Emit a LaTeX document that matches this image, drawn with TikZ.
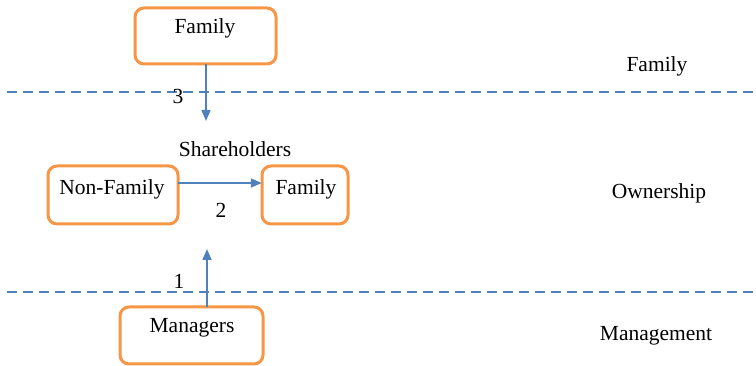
\documentclass[tikz,border=0pt]{standalone}
\usepackage{fontspec}
\setmainfont{Liberation Serif}
\usetikzlibrary{arrows.meta}
\definecolor{boxorange}{RGB}{247,150,70}
\definecolor{linkblue}{RGB}{79,129,189}
\begin{document}
\begin{tikzpicture}[x=1pt,y=-1pt,
  box/.style={draw=boxorange, line width=3pt, rounded corners=9pt, fill=white},
  txt/.style={font=\fontsize{21.5}{25}\selectfont, inner sep=0pt},
  link/.style={draw=linkblue, line width=1.6pt, -{Triangle[length=11pt,width=9pt]}},
  divider/.style={draw=linkblue, line width=1.4pt, dash pattern=on 10pt off 6pt}]
\useasboundingbox (0,0) rectangle (756,366);

% layer dividers
\coordinate (d1l) at (7,92);  \coordinate (d1r) at (756,92);
\coordinate (d2l) at (7,292); \coordinate (d2r) at (756,292);
\draw[divider] (d1l) -- (d1r);
\draw[divider] (d2l) -- (d2r);

% boxes
\path[box] (135,8) rectangle (276,64);
\node[inner sep=0pt, minimum width=141pt, minimum height=56pt] (famtop) at (205.5,36) {};
\path[box] (48,166) rectangle (178,224);
\node[inner sep=0pt, minimum width=130pt, minimum height=58pt] (nonfam) at (113,195) {};
\path[box] (262,166) rectangle (348,224);
\node[inner sep=0pt, minimum width=86pt, minimum height=58pt] (fammid) at (305,195) {};
\path[box] (120,307) rectangle (263,364);
\node[inner sep=0pt, minimum width=143pt, minimum height=57pt] (mgr) at (191.5,335.5) {};

% box labels
\node[txt] (tfam) at (205,28) {Family};
\node[txt] (tnon) at (112,189) {Non-Family};
\node[txt] (tfm) at (306,189) {Family};
\node[txt] (tmgr) at (192,328) {Managers};
\node[txt] (share) at (235,149) {Shareholders};

% level labels
\node[txt] (lfam) at (657,66) {Family};
\node[txt] (lown) at (659,193) {Ownership};
\node[txt] (lman) at (656,336) {Management};

% connectors
\coordinate (a3end) at (206,121);
\draw[link] (206,64) -- (a3end);
\draw[link] (nonfam.east |- 0,183) -- (fammid.west |- 0,183);
\coordinate (a1end) at (207,249);
\draw[link] (207,307) -- (a1end);

% connector numbers
\node[txt] (n3) at (178,96) {3};
\node[txt] (n2) at (221,210) {2};
\node[txt] (n1) at (179,281) {1};
\end{tikzpicture}
\end{document}
